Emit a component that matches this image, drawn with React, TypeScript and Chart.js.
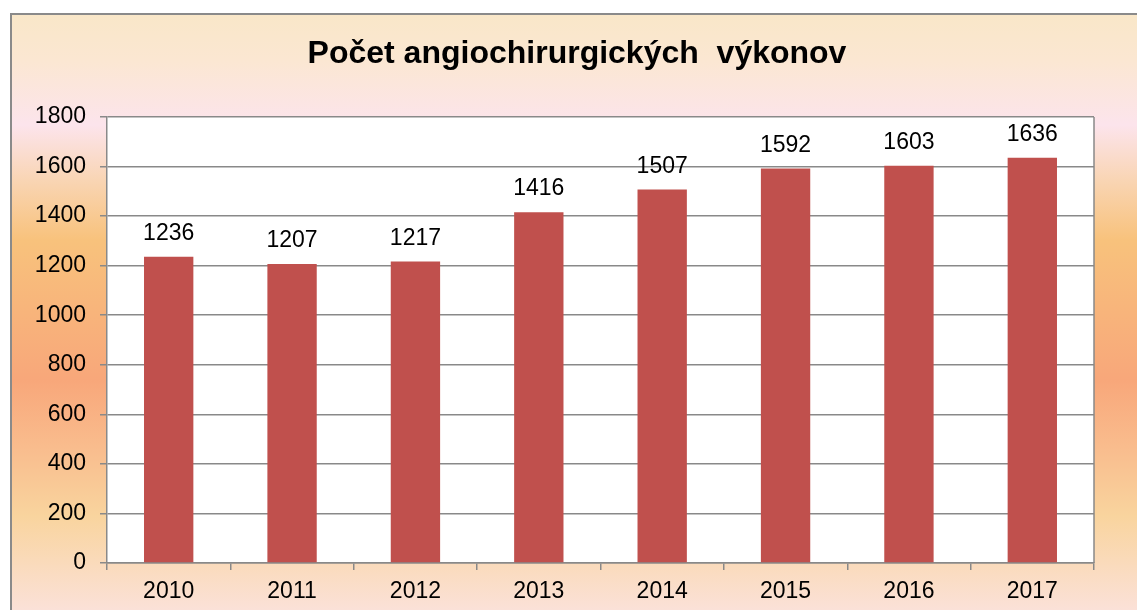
import React, { useEffect, useRef } from "react";
import { Chart, registerables } from "chart.js";

Chart.register(...registerables);

const TITLE = "Počet angiochirurgických  výkonov";
const YEARS = ["2010", "2011", "2012", "2013", "2014", "2015", "2016", "2017"];
const COUNTS = [1236, 1207, 1217, 1416, 1507, 1592, 1603, 1636];
const Y_MIN = 0;
const Y_MAX = 1800;
const Y_STEP = 200;

const FONT = "'Liberation Sans', Arial, sans-serif";
const GRID = "#898989";

const decorPlugin = {
  id: "decor",
  beforeDraw(chart: any) {
    const { ctx, width, height, chartArea } = chart;
    ctx.save();
    ctx.fillStyle = "#ffffff";
    ctx.fillRect(0, 0, width, height);
    const g = ctx.createLinearGradient(0, 13, 0, height);
    const h = height - 13;
    const stop = (y: number, c: string) => g.addColorStop(Math.min(1, Math.max(0, (y - 13) / h)), c);
    stop(13, "#f9e7c8");
    stop(60, "#fbe7d2");
    stop(125, "#fce4ec");
    stop(180, "#f9d5b4");
    stop(240, "#f8c27c");
    stop(380, "#f8a77a");
    stop(450, "#f9bd8e");
    stop(516, "#f9d49e");
    stop(610, "#fbe1d8");
    ctx.fillStyle = g;
    ctx.fillRect(11, 14, width - 11, height - 14);
    ctx.strokeStyle = "#8a8a8a";
    ctx.lineWidth = 2;
    ctx.beginPath();
    ctx.moveTo(11, height + 5);
    ctx.lineTo(11, 14);
    ctx.lineTo(width + 5, 14);
    ctx.stroke();
    ctx.fillStyle = "#ffffff";
    ctx.fillRect(chartArea.left, chartArea.top, chartArea.right - chartArea.left, chartArea.bottom - chartArea.top);
    ctx.fillStyle = "#000000";
    ctx.font = `bold 32px ${FONT}`;
    ctx.textAlign = "center";
    ctx.textBaseline = "middle";
    ctx.fillText(TITLE, 577, 54);
    ctx.restore();
  },
  afterDatasetsDraw(chart: any) {
    const { ctx, chartArea } = chart;
    ctx.save();
    ctx.strokeStyle = GRID;
    ctx.lineWidth = 1.5;
    ctx.beginPath();
    ctx.moveTo(chartArea.right, chartArea.top);
    ctx.lineTo(chartArea.right, chartArea.bottom);
    ctx.stroke();
    const meta = chart.getDatasetMeta(0);
    ctx.fillStyle = "#000000";
    ctx.font = `23px ${FONT}`;
    ctx.textAlign = "center";
    ctx.textBaseline = "middle";
    meta.data.forEach((bar: any, i: number) => {
      ctx.fillText(String(COUNTS[i]), bar.x, bar.y - 23);
    });
    ctx.restore();
  },
};

export default function App() {
  const ref = useRef<HTMLCanvasElement | null>(null);
  useEffect(() => {
    document.body.style.margin = "0";
    if (!ref.current) return;
    const chart = new Chart(ref.current, {
      type: "bar",
      data: {
        labels: YEARS,
        datasets: [
          {
            data: COUNTS,
            backgroundColor: "#c0504d",
            borderWidth: 0,
            barPercentage: 0.4,
            categoryPercentage: 1.0,
          },
        ],
      },
      plugins: [decorPlugin],
      options: {
        responsive: false,
        animation: false,
        layout: { padding: { left: 0, top: 117, right: 43, bottom: 0 } },
        plugins: {
          legend: { display: false },
          title: { display: false },
          tooltip: { enabled: false },
        },
        scales: {
          x: {
            afterFit: (s: any) => {
              s.height = 47;
            },
            grid: {
              display: true,
              drawOnChartArea: false,
              drawTicks: true,
              tickLength: 7,
              color: GRID,
              lineWidth: 1.5,
              offset: true,
            },
            border: { display: true, color: GRID, width: 1.5 },
            ticks: {
              color: "#000000",
              font: { family: FONT, size: 23 },
              padding: 8,
              maxRotation: 0,
            },
          },
          y: {
            min: Y_MIN,
            max: Y_MAX,
            afterFit: (s: any) => {
              s.width = 107;
            },
            grid: {
              color: GRID,
              lineWidth: 1.5,
              drawTicks: true,
              tickLength: 7,
            },
            border: { display: true, color: GRID, width: 1.5 },
            ticks: {
              stepSize: Y_STEP,
              color: "#000000",
              font: { family: FONT, size: 23 },
              padding: 14,
              callback: (v: any) => String(v),
            },
          },
        },
      },
    });
    return () => chart.destroy();
  }, []);
  return (
    <div style={{ width: 1137, height: 610 }}>
      <canvas ref={ref} width={1137} height={610} style={{ display: "block" }} />
    </div>
  );
}
